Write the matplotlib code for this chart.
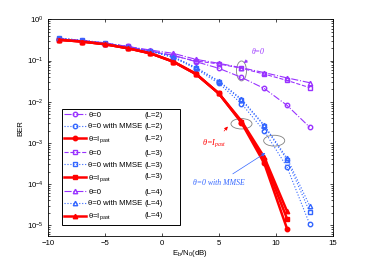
import numpy as np
import matplotlib
matplotlib.use("Agg")
import matplotlib.pyplot as plt
from matplotlib.patches import Ellipse

plt.rcParams['font.family'] = ['Liberation Sans', 'DejaVu Sans']
plt.rcParams['mathtext.default'] = 'regular'
plt.rcParams['font.size'] = 5.6

snr = [-9, -7, -5, -3, -1, 1, 3, 5, 7, 9, 11, 13]
snr_red = [-9, -7, -5, -3, -1, 1, 3, 5, 7, 9, 11]

theta0_L2 = [0.33, 0.30, 0.26, 0.22, 0.17, 0.135, 0.094, 0.065, 0.039, 0.021, 0.0082, 0.0024]
theta0_L3 = [0.33, 0.30, 0.26, 0.22, 0.17, 0.13, 0.098, 0.083, 0.065, 0.047, 0.033, 0.022]
theta0_L4 = [0.34, 0.31, 0.27, 0.22, 0.18, 0.15, 0.107, 0.086, 0.067, 0.051, 0.038, 0.029]

mmse_L2 = [0.34, 0.30, 0.26, 0.21, 0.165, 0.12, 0.063, 0.028, 0.009, 0.00195, 0.00026, 1.05e-5]
mmse_L3 = [0.35, 0.31, 0.265, 0.215, 0.17, 0.12, 0.067, 0.031, 0.011, 0.0026, 0.00039, 2.1e-5]
mmse_L4 = [0.35, 0.31, 0.27, 0.215, 0.17, 0.125, 0.068, 0.032, 0.0117, 0.0027, 0.00043, 2.95e-5]

ipast_L2 = [0.32, 0.29, 0.25, 0.20, 0.15, 0.094, 0.047, 0.016, 0.0031, 0.00032, 8.3e-6]
ipast_L3 = [0.32, 0.29, 0.25, 0.20, 0.15, 0.094, 0.047, 0.016, 0.0032, 0.00038, 1.45e-5]
ipast_L4 = [0.32, 0.29, 0.25, 0.20, 0.15, 0.095, 0.048, 0.016, 0.0034, 0.00045, 2.2e-5]

L_labels = ['(L=2)', '(L=2)', '(L=2)', '(L=3)', '(L=3)', '(L=3)', '(L=4)', '(L=4)', '(L=4)']

purple = '#9933FF'
blue = '#3366FF'
red = '#FF0000'

fig = plt.figure(figsize=(3.67, 2.66), dpi=100)
ax = fig.add_axes([0.131, 0.113, 0.775, 0.814])

ms = 3.2
ax.semilogy(snr, theta0_L2, '-.', color=purple, marker='o', ms=ms, mfc='none', lw=0.8, label='θ=0')
ax.semilogy(snr, mmse_L2, ':', color=blue, marker='o', ms=ms, mfc='none', lw=0.8, label='θ=0 with MMSE')
ax.semilogy(snr_red, ipast_L2, '-', color=red, marker='o', ms=ms, mfc=red, lw=1.8, label='θ=I$_{past}$')
ax.semilogy(snr, theta0_L3, '--', color=purple, marker='s', ms=ms, mfc='none', lw=0.8, label='θ=0')
ax.semilogy(snr, mmse_L3, ':', color=blue, marker='s', ms=ms, mfc='none', lw=0.8, label='θ=0 with MMSE')
ax.semilogy(snr_red, ipast_L3, '-', color=red, marker='s', ms=ms, mfc=red, lw=1.8, label='θ=I$_{past}$')
ax.semilogy(snr, theta0_L4, '-.', color=purple, marker='^', ms=ms, mfc='none', lw=0.8, label='θ=0')
ax.semilogy(snr, mmse_L4, ':', color=blue, marker='^', ms=ms, mfc='none', lw=0.8, label='θ=0 with MMSE')
ax.semilogy(snr_red, ipast_L4, '-', color=red, marker='^', ms=ms, mfc=red, lw=1.8, label='θ=I$_{past}$')

ax.set_xlim(-10, 15)
ax.set_ylim(5.5e-6, 1)
ax.set_xticks([-10, -5, 0, 5, 10, 15])
ax.set_xticklabels(['\u221210', '\u22125', '0', '5', '10', '15'])
ax.tick_params(which='both', direction='in', top=True, right=True, length=2.5, width=0.5, pad=3)
ax.tick_params(which='minor', length=1.3)
for s in ax.spines.values():
    s.set_linewidth(0.6)
ax.set_xlabel('E$_b$/N$_0$(dB)', labelpad=1)
ax.set_ylabel('BER', labelpad=2)

# legend
leg = ax.legend(loc='upper left', bbox_to_anchor=(0.049, 0.10, 0.415, 0.487), mode='expand',
                fancybox=False, edgecolor='black', framealpha=1, borderpad=0.3,
                labelspacing=0.55, handlelength=2.8, handletextpad=0.3, fontsize=5.6,
                borderaxespad=0)
leg.get_frame().set_linewidth(0.7)

fig.canvas.draw()
inv = fig.transFigure.inverted()
for t, lab in zip(leg.get_texts(), L_labels):
    bb = t.get_window_extent()
    x_fig, y_fig = inv.transform((0, bb.y1))
    fig.text(0.443, y_fig, lab, ha='right', va='top', fontsize=5.6)

# annotations
ax.add_patch(Ellipse((0.68, 0.762), 0.035, 0.092, transform=ax.transAxes, fill=False, ec='gray', lw=0.6))
ax.add_patch(Ellipse((0.68, 0.518), 0.074, 0.048, transform=ax.transAxes, fill=False, ec='gray', lw=0.6))
ax.add_patch(Ellipse((0.795, 0.44), 0.074, 0.05, transform=ax.transAxes, fill=False, ec='gray', lw=0.6))

ax.annotate('θ=0', xy=(7.2, 0.087), xytext=(8.5, 0.16), color=purple, fontsize=5.6,
            family='Liberation Serif', style='italic', ha='center', va='center',
            arrowprops=dict(arrowstyle='-|>', color=purple, lw=0.5, mutation_scale=5, shrinkA=2, shrinkB=0))
ax.annotate('θ=I$_{past}$', xy=(5.8, 2.5e-3), xytext=(4.6, 1.0e-3), color=red, fontsize=6,
            family='Liberation Serif', style='italic', ha='center', va='center',
            arrowprops=dict(arrowstyle='-|>', color=red, lw=0.5, mutation_scale=5, shrinkA=3, shrinkB=0))
ax.annotate('θ=0 with MMSE', xy=(9.1, 5.7e-4), xytext=(5.0, 1.07e-4), color=blue, fontsize=5.6,
            family='Liberation Serif', style='italic', ha='center', va='center',
            arrowprops=dict(arrowstyle='-|>', color=blue, lw=0.5, mutation_scale=5, shrinkA=3, shrinkB=0))

fig.savefig('out.png', dpi=100)
